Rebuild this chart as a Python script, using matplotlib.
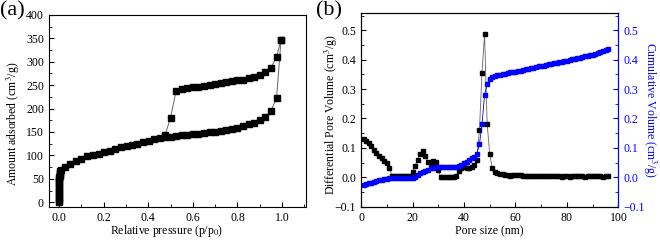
import numpy as np
import matplotlib
matplotlib.use("Agg")
import matplotlib.pyplot as plt
from matplotlib.ticker import MultipleLocator

plt.rcParams['font.family'] = ['Liberation Serif', 'DejaVu Serif']
plt.rcParams['mathtext.fontset'] = 'stix'

# (a) isoterma N2 - adsorcao
ads_p = [0.0001, 0.0002, 0.0003, 0.0004, 0.0005, 0.0006, 0.0008, 0.001, 0.0012,
         0.0015, 0.002, 0.0025, 0.003, 0.004, 0.005, 0.007, 0.01,
         0.027, 0.05, 0.076, 0.1, 0.127, 0.152, 0.178, 0.2, 0.228, 0.252,
         0.278, 0.303, 0.327, 0.352, 0.378, 0.403, 0.427, 0.452, 0.475,
         0.5, 0.525, 0.55, 0.575, 0.6, 0.625, 0.65, 0.675, 0.7, 0.725,
         0.75, 0.775, 0.8, 0.825, 0.85, 0.875, 0.9, 0.925, 0.95, 0.975, 0.995]
ads_v = [1, 5, 10, 15, 20, 25, 30, 35, 40,
         45, 50, 54, 57, 60, 63, 66, 68,
         75, 82, 88, 93, 98, 101, 104, 108, 110, 114,
         117, 120, 123, 125, 128, 130, 134, 137, 139,
         140, 141, 143, 144, 145, 146, 148, 150, 151, 152,
         154, 156, 159, 162, 166, 170, 175, 182, 195, 222, 347]

# (a) dessorcao
des_p = [0.995, 0.975, 0.95, 0.925, 0.9, 0.875, 0.85, 0.825, 0.8, 0.775,
         0.75, 0.725, 0.7, 0.675, 0.65, 0.625, 0.6, 0.575, 0.55, 0.525,
         0.5, 0.475]
des_v = [347, 310, 287, 277, 272, 268, 265, 262, 260, 258,
         256, 254, 252, 250, 249, 247, 245, 243, 241, 238,
         180, 143]

# (b) distribuicao de poros
pore_size = np.arange(1, 97)
diff_vol = [0.130, 0.124, 0.116, 0.105, 0.094, 0.083, 0.074, 0.064, 0.055, 0.050,
            0.033, 0.005, 0.003, 0.003, 0.003, 0.003, 0.003, 0.003, 0.003, 0.018,
            0.038, 0.060, 0.080, 0.090, 0.072, 0.052, 0.046, 0.055, 0.052, 0.025,
            0.000, 0.000, 0.000, 0.000, 0.000, 0.000, 0.005, 0.022, 0.033, 0.034,
            0.032, 0.033, 0.036, 0.042, 0.060, 0.160, 0.355, 0.487, 0.182, 0.080,
            0.030, 0.017, 0.013, 0.011, 0.010, 0.008, 0.007, 0.006, 0.007, 0.008,
            0.008, 0.007, 0.006, 0.006, 0.005, 0.005,
            0.005, 0.004, 0.004, 0.004, 0.003, 0.003, 0.004, 0.003, 0.003, 0.003,
            0.003, 0.002, 0.003, 0.003, 0.002, 0.003, 0.003, 0.004, 0.003, 0.003,
            0.002, 0.003, 0.003, 0.003, 0.004, 0.003, 0.003, 0.002, 0.003, 0.004]
cum_vol = [-0.027, -0.024, -0.021, -0.018, -0.015, -0.012, -0.010, -0.008, -0.006, -0.005,
           -0.004, -0.004, -0.004, -0.004, -0.004, -0.004, -0.004, -0.004, -0.004, -0.003,
           0.001, 0.007, 0.013, 0.018, 0.022, 0.026, 0.030, 0.033, 0.035, 0.035,
           0.035, 0.035, 0.035, 0.035, 0.035, 0.035, 0.035, 0.038, 0.043, 0.048,
           0.053, 0.058, 0.064, 0.070, 0.080, 0.112, 0.180, 0.280, 0.318, 0.335,
           0.341, 0.344, 0.347, 0.349, 0.351, 0.353, 0.355, 0.357, 0.358, 0.359,
           0.361, 0.363, 0.365, 0.367, 0.369, 0.371, 0.373, 0.375, 0.377, 0.378,
           0.380, 0.382, 0.384, 0.386, 0.388, 0.389, 0.391, 0.393, 0.395, 0.397,
           0.399, 0.401, 0.403, 0.405, 0.407, 0.409, 0.411, 0.413, 0.415, 0.417,
           0.419, 0.422, 0.426, 0.430, 0.434, 0.438]

FS = 8.5


def style_axis(ax):
    ax.tick_params(which='both', direction='in', labelsize=FS, top=False, right=False)
    ax.tick_params(which='major', length=3.5)
    ax.tick_params(which='minor', length=2)


def main():
    fig = plt.figure(figsize=(6.6, 2.44), dpi=100)

    # Painel (a)
    ax1 = fig.add_axes([0.074, 0.152, 0.389, 0.787])
    ax1.plot(ads_p, ads_v, color='#666666', lw=0.7, marker='s', ms=4,
             mfc='black', mec='black')
    ax1.plot(des_p, des_v, color='#666666', lw=0.7, marker='s', ms=4,
             mfc='black', mec='black')
    ax1.set_xlim(-0.045, 1.105)
    ax1.set_ylim(-10, 400)
    ax1.xaxis.set_major_locator(MultipleLocator(0.2))
    ax1.xaxis.set_minor_locator(MultipleLocator(0.1))
    ax1.yaxis.set_major_locator(MultipleLocator(50))
    ax1.yaxis.set_minor_locator(MultipleLocator(25))
    ax1.xaxis.set_major_formatter(plt.FuncFormatter(lambda v, p: f"{v:.1f}"))
    style_axis(ax1)
    ax1.set_xlabel("Relative pressure (p/p$_0$)", fontsize=FS, labelpad=2)
    ax1.set_ylabel("Amount adsorbed (cm$^3$/g)", fontsize=FS)
    ax1.xaxis.set_label_coords(0.46, -0.085)
    ax1.yaxis.set_label_coords(-0.105, 0.432)
    fig.text(0.0, 0.995, "(a)", fontsize=16, va='top', ha='left')

    # Painel (b)
    ax2 = fig.add_axes([0.547, 0.153, 0.390, 0.795])
    ax2.plot(pore_size, diff_vol, color='#666666', lw=0.6, marker='s', ms=3,
             mfc='black', mec='black')
    ax2.set_xlim(0, 100)
    ax2.set_ylim(-0.1, 0.56)
    ax2.xaxis.set_major_locator(MultipleLocator(20))
    ax2.xaxis.set_minor_locator(MultipleLocator(10))
    ax2.yaxis.set_major_locator(MultipleLocator(0.1))
    ax2.yaxis.set_minor_locator(MultipleLocator(0.05))
    style_axis(ax2)
    ax2.set_xlabel("Pore size (nm)", fontsize=FS, labelpad=1)
    ax2.set_ylabel("Differential Pore Volume (cm$^3$/g)", fontsize=FS)
    ax2.yaxis.set_label_coords(-0.081, 0.473)

    ax3 = ax2.twinx()
    ax3.plot(pore_size, cum_vol, color='blue', lw=0.6, marker='s', ms=3,
             mfc='blue', mec='blue')
    ax3.set_ylim(-0.1, 0.56)
    ax3.yaxis.set_major_locator(MultipleLocator(0.1))
    ax3.yaxis.set_minor_locator(MultipleLocator(0.05))
    ax3.tick_params(which='both', direction='in', labelsize=FS, colors='blue')
    ax3.tick_params(which='major', length=3.5)
    ax3.tick_params(which='minor', length=2)
    ax3.spines['right'].set_color('blue')
    ax3.set_ylabel("Cumulative Volume (cm$^3$/g)", fontsize=FS, color='blue',
                   rotation=270, labelpad=10)
    fig.text(0.479, 0.995, "(b)", fontsize=16, va='top', ha='left')

    fig.savefig("out.png", dpi=100)


if __name__ == "__main__":
    main()
